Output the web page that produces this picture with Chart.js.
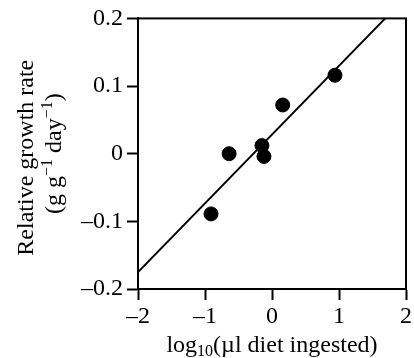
<!DOCTYPE html>
<html>
<head>
<meta charset="utf-8">
<script src="https://cdn.jsdelivr.net/npm/chart.js@4.4.1/dist/chart.umd.min.js"></script>
<style>
  html, body { margin: 0; padding: 0; background: #fff; }
  #wrap { width: 414px; height: 358px; }
</style>
</head>
<body>
<div id="wrap"><canvas id="c"></canvas></div>
<script>
// measured points: log10 diet ingested vs relative growth rate
const dietLog = [-0.91, -0.64, -0.15, -0.12, 0.16, 0.94];
const growthRate = [-0.089, 0.0, 0.012, -0.004, 0.072, 0.116];

// fitted regression line end points
const fitX = [-2, 1.69];
const fitY = [-0.175, 0.2];

const xTicks = [-2, -1, 0, 1, 2];
const yTicks = [-0.2, -0.1, 0, 0.1, 0.2];

const FONT = "'Liberation Serif', 'Times New Roman', serif";

function dash(v) {
  return v < 0 ? "\u2013" + String(Math.abs(v)) : String(v);
}

// box round the plot and the two axis titles
const frameAndTitles = {
  id: "frameAndTitles",
  afterDraw(chart) {
    const { ctx, chartArea: a } = chart;
    ctx.save();
    ctx.strokeStyle = "#000";
    ctx.lineWidth = 2;
    ctx.strokeRect(a.left, a.top, a.right - a.left, a.bottom - a.top);

    ctx.fillStyle = "#000";
    ctx.textBaseline = "alphabetic";

    // x title with subscript
    const big = "24px " + FONT;
    const small = "16px " + FONT;
    const parts = [["log", big, 0], ["10", small, 4], ["(\u00b5l diet ingested)", big, 0]];
    let total = 0;
    parts.forEach((p) => { ctx.font = p[1]; total += ctx.measureText(p[0]).width; });
    let x = (a.left + a.right) / 2 - total / 2;
    const by = 352;
    parts.forEach((p) => {
      ctx.font = p[1];
      ctx.textAlign = "left";
      ctx.fillText(p[0], x, by + p[2]);
      x += ctx.measureText(p[0]).width;
    });

    // y title, two lines, rotated
    ctx.translate(0, (a.top + a.bottom) / 2);
    ctx.rotate(-Math.PI / 2);
    ctx.font = big;
    ctx.textAlign = "center";
    ctx.fillText("Relative growth rate", -4, 33);
    const line2 = [["(g g", big, 0], ["\u22121", small, -9], [" day", big, 0], ["\u22121", small, -9], [")", big, 0]];
    total = 0;
    line2.forEach((p) => { ctx.font = p[1]; total += ctx.measureText(p[0]).width; });
    x = -total / 2;
    ctx.textAlign = "left";
    line2.forEach((p) => {
      ctx.font = p[1];
      ctx.fillText(p[0], x, 61 + p[2]);
      x += ctx.measureText(p[0]).width;
    });
    ctx.restore();
  },
};

const tickGrid = {
  display: true,
  drawOnChartArea: false,
  drawTicks: true,
  tickLength: 11,
  tickWidth: 2,
  tickColor: "#000",
};

new Chart(document.getElementById("c"), {
  type: "scatter",
  data: {
    datasets: [
      {
        type: "line",
        data: fitX.map((v, i) => ({ x: v, y: fitY[i] })),
        borderColor: "#000",
        borderWidth: 2,
        pointRadius: 0,
        fill: false,
      },
      {
        data: dietLog.map((v, i) => ({ x: v, y: growthRate[i] })),
        backgroundColor: "#000",
        borderColor: "#000",
        pointRadius: 7,
      },
    ],
  },
  options: {
    responsive: true,
    maintainAspectRatio: false,
    animation: false,
    layout: { padding: { left: 0, top: 18, right: 8, bottom: 0 } },
    plugins: { legend: { display: false }, tooltip: { enabled: false } },
    scales: {
      x: {
        type: "linear",
        min: -2,
        max: 2,
        afterBuildTicks: (s) => { s.ticks = xTicks.map((v) => ({ value: v })); },
        afterFit: (s) => { s.height = 69; },
        grid: tickGrid,
        border: { display: true, color: "#000", width: 2 },
        ticks: {
          color: "#000",
          padding: 2,
          font: { family: FONT, size: 24 },
          callback: (v) => dash(v),
        },
      },
      y: {
        type: "linear",
        min: -0.2,
        max: 0.2,
        afterBuildTicks: (s) => { s.ticks = yTicks.map((v) => ({ value: v })); },
        afterFit: (s) => { s.width = 138; },
        grid: tickGrid,
        border: { display: true, color: "#000", width: 2 },
        ticks: {
          color: "#000",
          padding: 4,
          font: { family: FONT, size: 24 },
          callback: (v) => dash(Math.round(v * 10) / 10),
        },
      },
    },
  },
  plugins: [frameAndTitles],
});
</script>
</body>
</html>
